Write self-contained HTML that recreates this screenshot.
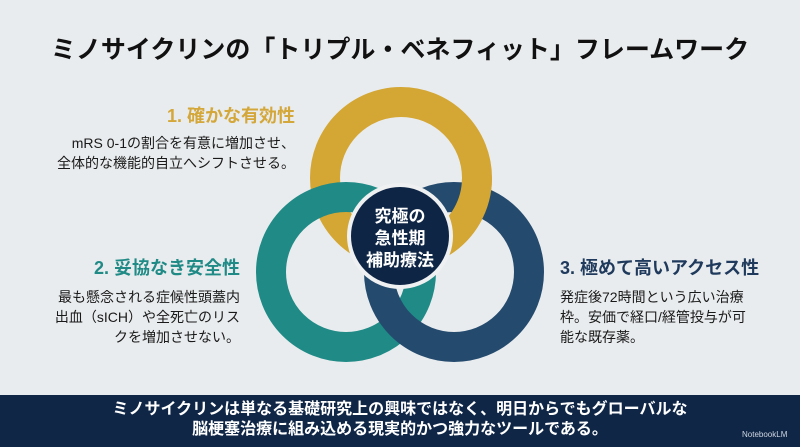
<!DOCTYPE html>
<html><head><meta charset="utf-8"><style>
*{margin:0;padding:0;box-sizing:border-box}
body{width:800px;height:447px;overflow:hidden;background:#e9ecee;font-family:"Liberation Sans","Noto Sans CJK JP",sans-serif;position:relative;color:#1a1a1a}
.t{position:absolute;white-space:nowrap}
h1{position:absolute;left:0;width:800px;top:30px;text-align:center;font-size:25px;font-weight:bold;color:#111}
.h{font-size:18px;font-weight:bold;line-height:22px}
.b{font-size:14px;line-height:20px}
.r{text-align:right}
.bar{position:absolute;left:0;top:395px;width:800px;height:52px;background:#0f2647;color:#fff;text-align:center;font-size:16px;font-weight:bold;line-height:20px;padding-top:5px}
</style></head><body>
<h1>ミノサイクリンの「トリプル・ベネフィット」フレームワーク</h1>
<div class="t h r" style="right:505px;top:105px;color:#d4a73a">1. 確かな有効性</div>
<div class="t b r" style="right:505px;top:133px">mRS 0-1の割合を有意に増加させ、<br>全体的な機能的自立へシフトさせる。</div>
<div class="t h r" style="right:560px;top:257px;color:#1f8a86">2. 妥協なき安全性</div>
<div class="t b r" style="right:560px;top:287px">最も懸念される症候性頭蓋内<br>出血（sICH）や全死亡のリス<br>クを増加させない。</div>
<div class="t h" style="left:560px;top:257px;color:#1f3a5c">3. 極めて高いアクセス性</div>
<div class="t b" style="left:560px;top:287px">発症後72時間という広い治療<br>枠。安価で経口/経管投与が可<br>能な既存薬。</div>
<svg style="position:absolute;left:0;top:0" width="800" height="447">
<circle cx="401" cy="178" r="76" fill="none" stroke="#d4a634" stroke-width="30"/>
<circle cx="346" cy="272" r="75" fill="none" stroke="#1f8a86" stroke-width="30"/>
<circle cx="454" cy="272" r="75" fill="none" stroke="#244a6e" stroke-width="30"/>
<path d="M477 177 A76 76 0 0 1 439 243.8" fill="none" stroke="#d4a634" stroke-width="30"/>
<circle cx="400" cy="236" r="51" fill="#0e2545" stroke="#eef0f1" stroke-width="4"/>
<text x="400" y="222" text-anchor="middle" fill="#fff" font-size="17" font-weight="bold" font-family="Liberation Sans,Noto Sans CJK JP,sans-serif">究極の</text>
<text x="400" y="244" text-anchor="middle" fill="#fff" font-size="17" font-weight="bold" font-family="Liberation Sans,Noto Sans CJK JP,sans-serif">急性期</text>
<text x="400" y="266" text-anchor="middle" fill="#fff" font-size="17" font-weight="bold" font-family="Liberation Sans,Noto Sans CJK JP,sans-serif">補助療法</text>
</svg>
<div class="bar">ミノサイクリンは単なる基礎研究上の興味ではなく、明日からでもグローバルな<br>脳梗塞治療に組み込める現実的かつ強力なツールである。</div>
<div class="t" style="left:742px;top:430px;font-size:8px;color:#cfd6df">NotebookLM</div>
</body></html>
